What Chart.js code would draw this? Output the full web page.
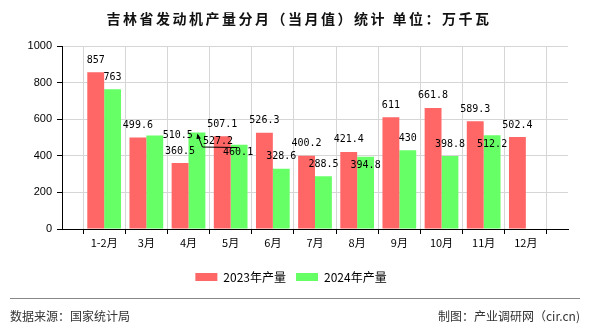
<!DOCTYPE html>
<html>
<head>
<meta charset="utf-8">
<script src="https://cdn.jsdelivr.net/npm/chart.js@4/dist/chart.umd.min.js"></script>
<style>
	html, body { margin: 0; padding: 0; background: #fff; }
</style>
</head>
<body>
<canvas id="chart" width="590" height="330"></canvas>
<script>
const months = ['1-2月', '3月', '4月', '5月', '6月', '7月', '8月', '9月', '10月', '11月', '12月'];
const output2023 = [857, 499.6, 360.5, 507.1, 526.3, 400.2, 421.4, 611, 661.8, 589.3, 502.4];
const output2024 = [763, 510.5, 527.2, 460.1, 328.6, 288.5, 394.8, 430, 398.8, 512.2, null];
const yTicks = [0, 200, 400, 600, 800, 1000];

// empty slot at each end, like the original axis
const labels = [''].concat(months, ['']);
const pad = arr => [null].concat(arr, [null]);

// label nudges where the original moved overlapping labels (dataset:index -> [dx, dy])
const labelShift = {
	'1:2': [23, 12],
	'1:3': [21, 20.5],
	'1:4': [-1, 20],
	'1:7': [0, 21],
	'1:10': [0, 21],
};

const titleFooter = {
	id: 'titleFooter',
	afterDraw(chart) {
		const ctx = chart.ctx;
		ctx.save();
		ctx.fillStyle = '#111';
		ctx.font = '600 14px "Noto Sans CJK SC"';
		ctx.letterSpacing = '2.5px';
		ctx.textAlign = 'center';
		ctx.textBaseline = 'middle';
		ctx.fillText('吉林省发动机产量分月（当月值）统计 单位：万千瓦', 299, 19);
		ctx.letterSpacing = '0px';

		ctx.strokeStyle = '#888';
		ctx.lineWidth = 1;
		ctx.beginPath();
		ctx.moveTo(10, 298.5);
		ctx.lineTo(580, 298.5);
		ctx.stroke();

		ctx.font = '12px "Noto Sans CJK SC"';
		ctx.fillStyle = '#333';
		ctx.textAlign = 'left';
		ctx.fillText('数据来源：国家统计局', 10, 316);
		ctx.textAlign = 'right';
		ctx.fillText('制图：产业调研网（cir.cn)', 580, 316);
		ctx.restore();
	}
};

const valueLabels = {
	id: 'valueLabels',
	afterDatasetsDraw(chart) {
		const ctx = chart.ctx;
		ctx.save();
		ctx.font = '10px "DejaVu Sans Mono"';
		ctx.fillStyle = '#000';
		ctx.textAlign = 'center';
		ctx.textBaseline = 'middle';
		chart.data.datasets.forEach((ds, di) => {
			chart.getDatasetMeta(di).data.forEach((bar, i) => {
				const v = ds.data[i];
				if (v === null || v === undefined) return;
				const shift = labelShift[di + ':' + i] || [0, 0];
				ctx.fillText(String(v), bar.x + shift[0], bar.y - 12 + shift[1]);
			});
		});
		// leader arrow for the 4月 2024 label
		const b = chart.getDatasetMeta(1).data[3];
		ctx.strokeStyle = '#000';
		ctx.lineWidth = 1;
		ctx.beginPath();
		ctx.moveTo(b.x + 1, b.y + 3);
		ctx.lineTo(b.x + 5.5, b.y + 14.5);
		ctx.lineTo(b.x + 40, b.y + 15);
		ctx.stroke();
		ctx.beginPath();
		ctx.moveTo(b.x + 0.5, b.y + 1);
		ctx.lineTo(b.x + 4, b.y + 6);
		ctx.lineTo(b.x - 0.5, b.y + 6.5);
		ctx.closePath();
		ctx.fillStyle = '#000';
		ctx.fill();
		ctx.restore();
	}
};

const data = {
	labels: labels,
	datasets: [
		{
			label: '2023年产量',
			data: pad(output2023),
			backgroundColor: 'rgb(255,102,102)',
			categoryPercentage: 0.8,
			barPercentage: 1.0
		},
		{
			label: '2024年产量',
			data: pad(output2024),
			backgroundColor: 'rgb(102,255,102)',
			categoryPercentage: 0.8,
			barPercentage: 1.0
		}
	]
};

const config = {
	type: 'bar',
	data: data,
	options: {
		responsive: false,
		animation: false,
		layout: {
			padding: { left: 14, top: 46, right: 22, bottom: 37 }
		},
		plugins: {
			title: { display: false },
			tooltip: { enabled: false },
			legend: {
				position: 'bottom',
				labels: {
					boxWidth: 22,
					boxHeight: 8,
					padding: 10,
					color: '#000',
					font: { size: 12, family: '"Noto Sans CJK SC"' }
				}
			}
		},
		scales: {
			x: {
				offset: false,
				afterFit: s => { s.height = 32; },
				grid: { color: '#d6d6d6', tickColor: '#000', tickLength: 5 },
				border: { color: '#000' },
				ticks: {
					color: '#000',
					padding: 2,
					maxRotation: 0,
					autoSkip: false,
					font: { size: 11, family: '"Noto Sans CJK SC"' }
				}
			},
			y: {
				min: 0,
				max: 1000,
				afterFit: s => { s.width = 48; },
				afterBuildTicks: s => { s.ticks = yTicks.map(v => ({ value: v })); },
				grid: { color: '#d6d6d6', tickColor: '#000', tickLength: 5 },
				border: { color: '#000' },
				ticks: {
					color: '#000',
					padding: 5,
					callback: v => String(v),
					font: { size: 11, family: '"Liberation Sans"' }
				}
			}
		}
	},
	plugins: [titleFooter, valueLabels]
};

document.addEventListener('DOMContentLoaded', () => {
	const ctx = document.getElementById('chart');
	const chartAll = new Chart(ctx, config);
});
</script>
</body>
</html>
